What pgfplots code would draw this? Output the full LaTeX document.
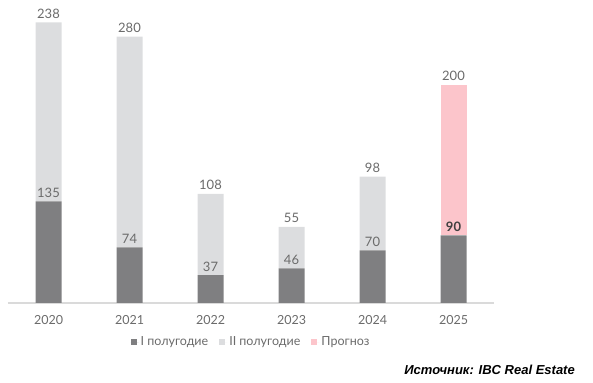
\documentclass[border=0pt]{standalone}
\usepackage{pgfplots}
\pgfplotsset{compat=1.18}
\usepackage{fontspec}
\setmainfont{Lato}
\newfontfamily\srcfont{Liberation Sans}
\definecolor{darkg}{HTML}{7F7F81}
\definecolor{lightg}{HTML}{DCDDDF}
\definecolor{pinkc}{HTML}{FCC5CB}
\definecolor{txt}{HTML}{6B6B6B}
\definecolor{axl}{HTML}{DADADA}
\tikzset{lbl/.style={anchor=base, yshift=4pt, text=txt, font=\fontsize{13}{15}\selectfont, inner sep=0pt}}
\begin{document}
\begin{tikzpicture}
\path[use as bounding box] (0pt,0pt) rectangle (593pt,382pt);
\begin{axis}[
  at={(8pt,79pt)}, anchor=south west,
  scale only axis, width=486pt, height=298pt,
  ybar stacked, bar width=26pt,
  xmin=-0.5, xmax=5.5, ymin=0, ymax=396,
  axis x line=bottom, axis y line=none,
  x axis line style={-, draw=axl, line width=1.2pt},
  xtick={0,1,2,3,4,5},
  xticklabels={2020,2021,2022,2023,2024,2025},
  major tick length=0pt,
  xticklabel style={text=txt, font=\fontsize{12.5}{14}\selectfont, yshift=-9pt},
  legend columns=3,
  legend style={draw=none, fill=none, at={(0.5,-0.131)}, anchor=center,
    font=\fontsize{12.5}{14}\selectfont, text=txt,
    /tikz/every even column/.append style={column sep=9pt}},
  legend image code/.code={\fill[#1] (0pt,-3pt) rectangle (6pt,3pt); \path (0pt,0pt) -- (8pt,0pt);},
  clip=false,
]
\addplot[fill=darkg, draw=none] coordinates {(0,135) (1,74) (2,37) (3,46) (4,70) (5,90)};
\addlegendentry{I полугодие}
\addplot[fill=lightg, draw=none] coordinates {(0,238) (1,280) (2,108) (3,55) (4,98) (5,0)};
\addlegendentry{II полугодие}
\addplot[fill=pinkc, draw=none] coordinates {(0,0) (1,0) (2,0) (3,0) (4,0) (5,200)};
\addlegendentry{Прогноз}
\coordinate (a0) at (axis cs:0,135);
\coordinate (a1) at (axis cs:1,74);
\coordinate (a2) at (axis cs:2,37);
\coordinate (a3) at (axis cs:3,46);
\coordinate (a4) at (axis cs:4,70);
\coordinate (a5) at (axis cs:5,90);
\coordinate (b0) at (axis cs:0,373);
\coordinate (b1) at (axis cs:1,354);
\coordinate (b2) at (axis cs:2,145);
\coordinate (b3) at (axis cs:3,101);
\coordinate (b4) at (axis cs:4,168);
\coordinate (b5) at (axis cs:5,290);
\end{axis}
\node[lbl] at (a0) {135};
\node[lbl] at (a1) {74};
\node[lbl] at (a2) {37};
\node[lbl] at (a3) {46};
\node[lbl] at (a4) {70};
\node[lbl, text=black!75, font=\fontsize{13}{15}\selectfont\bfseries] at (a5) {90};
\node[lbl] at (b0) {238};
\node[lbl] at (b1) {280};
\node[lbl] at (b2) {108};
\node[lbl] at (b3) {55};
\node[lbl] at (b4) {98};
\node[lbl] at (b5) {200};
\node[anchor=base east, inner sep=0pt, font=\srcfont\bfseries\itshape\fontsize{13}{15}\selectfont] at (575pt,7pt) {Источник: IBC Real Estate};
\end{tikzpicture}
\end{document}
